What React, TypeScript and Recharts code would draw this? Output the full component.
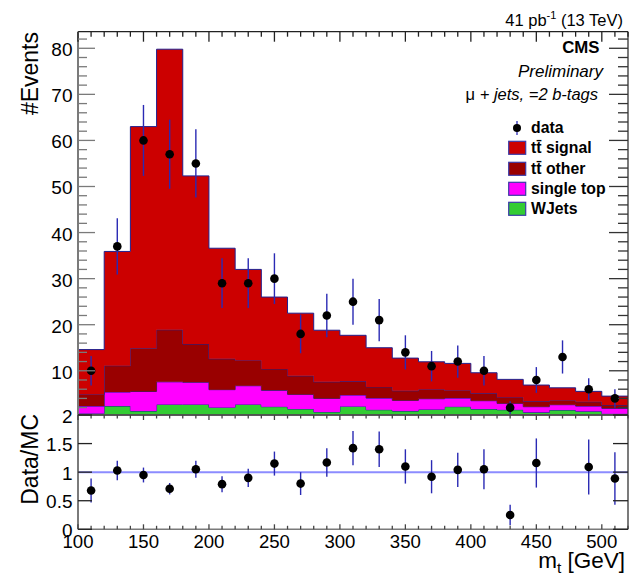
import { Area, ComposedChart, ErrorBar, Legend, ReferenceLine, Scatter, XAxis, YAxis } from "recharts";

// m_t histogram, 20 GeV bins from 100 to 520
const binLow = [100, 120, 140, 160, 180, 200, 220, 240, 260, 280, 300, 320, 340, 360, 380, 400, 420, 440, 460, 480, 500];
const binWidth = 20;

const wjets = [0.75, 2.33, 1.25, 2.7, 2.7, 2.05, 2.7, 2.2, 1.7, 1.05, 2.27, 1.53, 1.25, 1.6, 2.2, 1.68, 1.53, 0.97, 1.47, 1.2, 0.67];
const singleTop = [1.58, 3.05, 4.25, 4.9, 4.8, 3.85, 4.05, 3.55, 3.17, 2.95, 2.46, 2.54, 2.32, 2.33, 1.87, 1.82, 1.39, 1.23, 1.16, 1.13, 1.17];
const ttOther = [2.54, 5.72, 9.4, 11.3, 8.3, 6.7, 5.5, 4.65, 4.03, 3.6, 2.97, 2.43, 2.09, 2.03, 1.67, 1.6, 1.28, 1.16, 0.94, 0.94, 0.71];
const ttSignal = [9.73, 24.8, 48.1, 60.9, 36.5, 24.0, 19.75, 15.6, 13.6, 11.2, 10.0, 8.5, 7.09, 5.99, 5.86, 4.47, 3.93, 3.54, 2.73, 2.26, 1.95];

const dataCounts = [10, 37, 60, 57, 55, 29, 29, 30, 18, 22, 25, 21, 14, 11, 12, 10, 2, 8, 13, 6, 4];
const dataErr = [3.2, 6.1, 7.7, 7.5, 7.4, 5.4, 5.4, 5.5, 4.2, 4.7, 5.0, 4.6, 3.7, 3.3, 3.5, 3.2, 1.4, 2.8, 3.6, 2.4, 2.0];

// bin at 470 is above the ratio range, so it has no point
const ratio = [0.68, 1.03, 0.95, 0.71, 1.05, 0.79, 0.9, 1.15, 0.8, 1.17, 1.42, 1.4, 1.1, 0.92, 1.04, 1.05, 0.25, 1.16, null, 1.09, 0.89];
const ratioErr = [0.21, 0.17, 0.13, 0.1, 0.15, 0.14, 0.16, 0.21, 0.2, 0.25, 0.3, 0.31, 0.3, 0.29, 0.3, 0.35, 0.18, 0.43, null, 0.48, 0.46];

const xLabels = [100, 150, 200, 250, 300, 350, 400, 450, 500];
const yLabels = [10, 20, 30, 40, 50, 60, 70, 80];
const ratioLabels = [0, 0.5, 1, 1.5, 2];

const legendItems = [
  { name: "data", kind: "data" },
  { name: "tt\u0304 signal", kind: "ttSignal" },
  { name: "tt\u0304 other", kind: "ttOther" },
  { name: "single top", kind: "singleTop" },
  { name: "WJets", kind: "wjets" },
];

const W = 629;
const H = 575;
const FONT = "'Liberation Sans', Arial, Helvetica, sans-serif";
const colors: Record<string, string> = { ttSignal: "#cc0000", ttOther: "#990000", singleTop: "#ff00ff", wjets: "#33cc33" };
const outline = "#20208f";
const errColor = "#2a2ab4";
const axisGray = "#7a7a7a";

const xTicks = Array.from({ length: 43 }, (_, i) => 100 + i * 10);
const yTicks = Array.from({ length: 41 }, (_, i) => 2 + i * 2);

const histRows = [...binLow, binLow[binLow.length - 1] + binWidth].map((x, j) => {
  const i = Math.min(j, binLow.length - 1);
  return { x, wjets: wjets[i], singleTop: singleTop[i], ttOther: ttOther[i], ttSignal: ttSignal[i] };
});
const dataPoints = dataCounts.map((y, i) => ({ x: binLow[i] + binWidth / 2, y, err: dataErr[i] }));
const ratioPoints = ratio
  .map((y, i) => ({ x: binLow[i] + binWidth / 2, y, err: ratioErr[i] }))
  .filter((p) => p.y !== null);

const dot = (p: any) => <circle cx={p.cx} cy={p.cy} r={4.3} fill="#000" />;

// ticks drawn inside the frame, ROOT style
const xTick = (major: number, minor: number, dir: number, stroke: string, labels = false) => (p: any) => {
  const isMajor = xLabels.includes(p.payload.value);
  return (
    <g>
      <line x1={p.x} x2={p.x} y1={p.y} y2={p.y + dir * (isMajor ? major : minor)} stroke={stroke} strokeWidth={1.3} />
      {labels && isMajor && (
        <text x={p.x} y={p.y + 19} textAnchor="middle" fontSize={18.6} fontFamily={FONT} fill="#000">{p.payload.value}</text>
      )}
    </g>
  );
};

const yTick = (major: number, minor: number, dir: number, stroke: string, majors: number[], labels = false, dy = 8) => (p: any) => {
  const m = majors.includes(p.payload.value);
  return (
    <g>
      <line x1={p.x} x2={p.x + dir * (m ? major : minor)} y1={p.y} y2={p.y} stroke={stroke} strokeWidth={1.3} />
      {labels && m && (
        <text x={p.x - 5.5} y={p.y + dy} textAnchor="end" fontSize={19} fontFamily={FONT} fill="#000">{p.payload.value}</text>
      )}
    </g>
  );
};

function LegendBox() {
  return (
    <div style={{ fontFamily: FONT, fontWeight: "bold", fontSize: 15.8, lineHeight: "20.3px" }}>
      {legendItems.map((item) => (
        <div key={item.name} style={{ display: "flex", alignItems: "center", height: 20.3 }}>
          <svg width={23} height={20} style={{ flex: "none" }}>
            {item.kind === "data" ? (
              <g>
                <line x1={9} x2={9} y1={3} y2={17} stroke={errColor} strokeWidth={1.3} />
                <circle cx={9} cy={10} r={4} fill="#000" />
              </g>
            ) : (
              <rect x={0.7} y={3.3} width={17} height={13} fill={colors[item.kind]} stroke="#3a3aa8" strokeWidth={1.2} />
            )}
          </svg>
          <span style={{ whiteSpace: "nowrap" }}>{item.name}</span>
        </div>
      ))}
    </div>
  );
}

function UpperPanel() {
  return (
    <ComposedChart width={W} height={H} data={histRows} margin={{ top: 30.7, right: 0, bottom: 159, left: 0 }}>
      <XAxis xAxisId={0} dataKey="x" type="number" domain={[100, 520]} allowDataOverflow height={1} ticks={xTicks} interval={0} tick={false} tickLine={false} axisLine={{ stroke: axisGray, strokeWidth: 1.5 }} />
      <XAxis xAxisId="t" orientation="top" dataKey="x" type="number" domain={[100, 520]} allowDataOverflow height={1} ticks={xTicks} interval={0} tickSize={0} tickMargin={0} tickLine={false} tick={xTick(10, 5, 1, "#222")} axisLine={{ stroke: "#222", strokeWidth: 1.3 }} />
      <YAxis yAxisId={0} type="number" domain={[0.4, 83.6]} allowDataOverflow width={78} ticks={yTicks} interval={0} tickSize={0} tickMargin={0} tickLine={false} tick={yTick(17, 9, 1, axisGray, yLabels, true)} axisLine={{ stroke: axisGray, strokeWidth: 2 }} />
      <YAxis yAxisId="r" orientation="right" type="number" domain={[0.4, 83.6]} allowDataOverflow width={1} ticks={yTicks} interval={0} tickSize={0} tickMargin={0} tickLine={false} tick={yTick(19, 10, -1, "#333", yLabels)} axisLine={{ stroke: "#333", strokeWidth: 1.3 }} />
      <Area dataKey="wjets" name="WJets" type="stepAfter" stackId="mc" fill={colors.wjets} fillOpacity={1} stroke={outline} strokeWidth={1} dot={false} activeDot={false} isAnimationActive={false} />
      <Area dataKey="singleTop" name="single top" type="stepAfter" stackId="mc" fill={colors.singleTop} fillOpacity={1} stroke={outline} strokeWidth={1} dot={false} activeDot={false} isAnimationActive={false} />
      <Area dataKey="ttOther" name="tt other" type="stepAfter" stackId="mc" fill={colors.ttOther} fillOpacity={1} stroke={outline} strokeWidth={1} dot={false} activeDot={false} isAnimationActive={false} />
      <Area dataKey="ttSignal" name="tt signal" type="stepAfter" stackId="mc" fill={colors.ttSignal} fillOpacity={1} stroke={outline} strokeWidth={1} dot={false} activeDot={false} isAnimationActive={false} />
      <Scatter data={dataPoints} dataKey="y" name="data" shape={dot} isAnimationActive={false}>
        <ErrorBar dataKey="err" direction="y" width={0} stroke={errColor} strokeWidth={1.4} />
      </Scatter>
      <Legend layout="vertical" align="center" verticalAlign="middle" wrapperStyle={{ left: 508, top: 118, width: 121 }} content={() => <LegendBox />} />
    </ComposedChart>
  );
}

function RatioPanel() {
  return (
    <ComposedChart width={W} height={H} data={ratioPoints} margin={{ top: 414, right: 0, bottom: 44.7, left: 0 }}>
      <XAxis xAxisId={0} dataKey="x" type="number" domain={[100, 520]} allowDataOverflow height={1} ticks={xTicks} interval={0} tickSize={0} tickMargin={0} tickLine={false} tick={xTick(5, 3.5, -1, "#444", true)} axisLine={{ stroke: axisGray, strokeWidth: 1.5 }} />
      <XAxis xAxisId="t" orientation="top" dataKey="x" type="number" domain={[100, 520]} allowDataOverflow height={1} ticks={xTicks} interval={0} tickSize={0} tickMargin={0} tickLine={false} tick={xTick(5, 3.5, 1, "#444")} axisLine={{ stroke: "#444", strokeWidth: 1.5 }} />
      <YAxis yAxisId={0} type="number" domain={[0, 2]} allowDataOverflow width={78} ticks={ratioLabels} interval={0} tickSize={0} tickMargin={0} tickLine={false} tick={yTick(14, 14, 1, "#222", ratioLabels, true, 7.5)} axisLine={{ stroke: axisGray, strokeWidth: 2 }} />
      <YAxis yAxisId="r" orientation="right" type="number" domain={[0, 2]} allowDataOverflow width={1} ticks={ratioLabels} interval={0} tickSize={0} tickMargin={0} tickLine={false} tick={yTick(15, 15, -1, "#222", ratioLabels)} axisLine={{ stroke: "#333", strokeWidth: 1.3 }} />
      <ReferenceLine y={1} stroke="#8c8cff" strokeWidth={2} />
      <Scatter dataKey="y" name="ratio" shape={dot} isAnimationActive={false}>
        <ErrorBar dataKey="err" direction="y" width={0} stroke={errColor} strokeWidth={1.4} />
      </Scatter>
    </ComposedChart>
  );
}

function Annotations() {
  return (
    <svg width={W} height={H} style={{ position: "absolute", left: 0, top: 0, pointerEvents: "none" }} fontFamily={FONT}>
      <text x={623} y={26} textAnchor="end" fontSize={16.5}>
        41 pb<tspan dy={-7} fontSize={11}>-1</tspan><tspan dy={7}> (13 TeV)</tspan>
      </text>
      <text x={599.5} y={53} textAnchor="end" fontSize={16.8} fontWeight="bold">CMS</text>
      <text x={603} y={77} textAnchor="end" fontSize={17} fontStyle="italic">Preliminary</text>
      <text x={598} y={100} textAnchor="end" fontSize={16.5}>
        μ<tspan fontStyle="italic"> + jets, =2 b-tags</tspan>
      </text>
      <text transform="translate(38, 32) rotate(-90)" textAnchor="end" fontSize={23}>#Events</text>
      <text transform="translate(38, 414) rotate(-90)" textAnchor="end" fontSize={23}>Data/MC</text>
      <text x={625} y={568} textAnchor="end" fontSize={22.5}>
        m<tspan dy={5} fontSize={15.5}>t</tspan><tspan dy={-5}> [GeV]</tspan>
      </text>
    </svg>
  );
}

export default function App() {
  return (
    <div style={{ position: "absolute", left: 0, top: 0, width: W, height: H, background: "#fff", fontFamily: FONT }}>
      <div style={{ position: "absolute", left: 0, top: 0 }}><UpperPanel /></div>
      <div style={{ position: "absolute", left: 0, top: 0 }}><RatioPanel /></div>
      <Annotations />
    </div>
  );
}
